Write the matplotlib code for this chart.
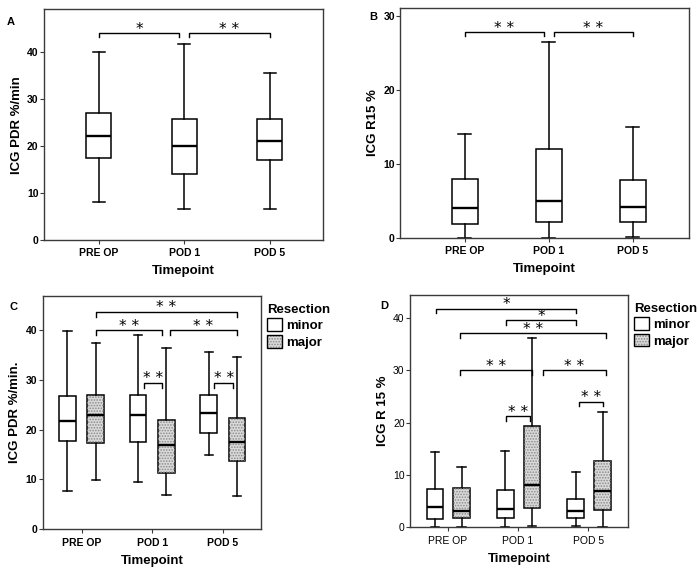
import matplotlib
matplotlib.use("Agg")
import matplotlib.pyplot as plt
from matplotlib.patches import Patch, PathPatch
from matplotlib.legend_handler import HandlerTuple

plt.rcParams['font.family'] = ['Liberation Sans', 'DejaVu Sans']
plt.rcParams['hatch.linewidth'] = 0.8

timepoints = ["PRE OP", "POD 1", "POD 5"]

# Panel A: ICG PDR %/min (whislo, q1, med, q3, whishi)
a_stats = [(8.0, 17.4, 22.0, 26.9, 40.0),
           (6.7, 14.1, 20.0, 25.7, 41.6),
           (6.5, 16.9, 21.0, 25.7, 35.5)]
# Panel B: ICG R15 %
b_stats = [(0.0, 1.9, 4.05, 8.0, 14.0),
           (0.0, 2.1, 5.0, 12.0, 26.4),
           (0.1, 2.1, 4.2, 7.8, 15.0)]
# Panel C: ICG PDR %/min by resection
c_minor = [(7.6, 17.7, 21.7, 26.8, 39.9),
           (9.4, 17.6, 23.0, 27.0, 39.1),
           (15.0, 19.4, 23.3, 27.0, 35.6)]
c_major = [(9.8, 17.3, 22.9, 27.0, 37.3),
           (6.8, 11.2, 17.0, 22.0, 36.3),
           (6.6, 13.8, 17.5, 22.3, 34.5)]
# Panel D: ICG R 15 % by resection
d_minor = [(0.0, 1.6, 3.9, 7.3, 14.3),
           (0.0, 1.7, 3.4, 7.1, 14.5),
           (0.2, 1.8, 3.1, 5.5, 10.6)]
d_major = [(0.0, 1.7, 3.1, 7.6, 11.5),
           (0.3, 3.6, 8.0, 19.4, 36.2),
           (0.1, 3.3, 6.9, 12.7, 22.0)]

# significance annotations: (start, end, bracket level, label)
a_sig = [((0, 0.0), (1, -0.06), 43.9, "*"), ((1, 0.06), (2, 0.0), 43.9, "* *")]
b_sig = [((0, 0.0), (1, -0.06), 27.8, "* *"), ((1, 0.06), (2, 0.0), 27.8, "* *")]
c_sig = [((0, 0.2), (2, 0.2), 43.7, "* *"),
         ((0, 0.2), (1, 0.14), 40.0, "* *"),
         ((1, 0.25), (2, 0.2), 40.0, "* *"),
         ((1, -0.12), (1, 0.14), 29.4, "* *"),
         ((2, -0.12), (2, 0.14), 29.4, "* *")]
d_sig = [((0, -0.17), (2, -0.17), 41.8, "*"),
         ((1, -0.17), (2, -0.17), 39.6, "*"),
         ((0, 0.17), (2, 0.25), 37.1, "* *"),
         ((0, 0.17), (1, 0.2), 30.0, "* *"),
         ((1, 0.35), (2, 0.25), 30.0, "* *"),
         ((1, -0.17), (1, 0.17), 21.2, "* *"),
         ((2, -0.13), (2, 0.2), 24.0, "* *")]

FRAME = '#3a3a3a'
MAJOR_FILL = '#dadada'
HATCH_COL = '#8a8a8a'


def to_bxp(stats):
    return [dict(whislo=s[0], q1=s[1], med=s[2], q3=s[3], whishi=s[4], fliers=[])
            for s in stats]


def draw_boxes(ax, stats, positions, width, face, hatched=False):
    r = ax.bxp(to_bxp(stats), positions=positions, widths=width, patch_artist=True,
               showfliers=False, manage_ticks=False,
               boxprops=dict(facecolor=face, edgecolor='black', linewidth=1.1),
               medianprops=dict(color='black', linewidth=1.7),
               whiskerprops=dict(color='black', linewidth=1.1),
               capprops=dict(color='black', linewidth=1.1),
               capwidths=width * 0.5)
    if hatched:
        for b in r['boxes']:
            p = PathPatch(b.get_path(), transform=b.get_transform(), facecolor='none',
                          edgecolor=HATCH_COL, hatch='......', lw=0, zorder=b.get_zorder() + 0.05)
            ax.add_patch(p)
    return r


def bracket(ax, x1, x2, y, h, label, fs=11):
    ax.plot([x1, x1, x2, x2], [y - h, y, y, y - h], color='black', lw=1.0, clip_on=False)
    ax.annotate(label, xy=((x1 + x2) / 2, y), xytext=(0, 2.8), textcoords='offset points',
                ha='center', va='center', fontsize=fs, family='DejaVu Sans',
                annotation_clip=False)


def style_axes(ax, ylim, xlim, ylabel, yticks, bold_ticks=True):
    ax.set_ylim(*ylim)
    ax.set_xlim(*xlim)
    ax.set_yticks(yticks)
    ax.set_xticks(range(len(timepoints)))
    ax.set_xticklabels(timepoints, fontsize=7.5,
                       fontweight='bold' if bold_ticks else 'normal')
    ax.tick_params(axis='y', labelsize=7.5, length=3, color=FRAME, pad=1)
    ax.tick_params(axis='x', length=3, color=FRAME, pad=3)
    for t in ax.get_yticklabels():
        t.set_fontweight('bold' if bold_ticks else 'normal')
    for sp in ax.spines.values():
        sp.set_color(FRAME)
        sp.set_linewidth(1.0)
    ax.set_xlabel("Timepoint", fontsize=9.5, fontweight='bold', labelpad=5)
    ax.set_ylabel(ylabel, fontsize=9.5, fontweight='bold', labelpad=3)


fig = plt.figure(figsize=(7.0, 5.73), dpi=100)

# Panel A
axA = fig.add_axes([0.063, 0.581, 0.398, 0.403])
draw_boxes(axA, a_stats, [0, 1, 2], 0.29, 'white')
style_axes(axA, (0, 49), (-0.64, 2.62), "ICG PDR %/min", [0, 10, 20, 30, 40])
for (g1, o1), (g2, o2), y, lab in a_sig:
    bracket(axA, g1 + o1, g2 + o2, y, 0.9, lab)
fig.text(0.010, 0.962, "A", fontsize=8, fontweight='bold', va='center')

# Panel B
axB = fig.add_axes([0.572, 0.585, 0.412, 0.4005])
draw_boxes(axB, b_stats, [0, 1, 2], 0.31, 'white')
style_axes(axB, (0, 31), (-0.77, 2.67), "ICG R15 %", [0, 10, 20, 30])
for (g1, o1), (g2, o2), y, lab in b_sig:
    bracket(axB, g1 + o1, g2 + o2, y, 0.6, lab)
fig.text(0.527, 0.970, "B", fontsize=8, fontweight='bold', va='center')

# Panel C
axC = fig.add_axes([0.061, 0.0763, 0.312, 0.4077])
draw_boxes(axC, c_minor, [-0.2, 0.8, 1.8], 0.235, 'white')
draw_boxes(axC, c_major, [0.2, 1.2, 2.2], 0.235, MAJOR_FILL, hatched=True)
style_axes(axC, (0, 46.9), (-0.55, 2.54), "ICG PDR %/min.", [0, 10, 20, 30, 40])
for (g1, o1), (g2, o2), y, lab in c_sig:
    bracket(axC, g1 + o1, g2 + o2, y, 1.0, lab)
fig.text(0.013, 0.464, "C", fontsize=8, fontweight='bold', va='center')

# Panel D
axD = fig.add_axes([0.586, 0.0798, 0.311, 0.4062])
draw_boxes(axD, d_minor, [-0.18, 0.82, 1.82], 0.235, 'white')
draw_boxes(axD, d_major, [0.2, 1.2, 2.2], 0.235, MAJOR_FILL, hatched=True)
style_axes(axD, (0, 44.5), (-0.53, 2.56), "ICG R 15 %", [0, 10, 20, 30, 40],
           bold_ticks=False)
for (g1, o1), (g2, o2), y, lab in d_sig:
    bracket(axD, g1 + o1, g2 + o2, y, 0.9, lab)
fig.text(0.543, 0.466, "D", fontsize=8, fontweight='bold', va='center')


# Legends
def add_legend(ax, anchor):
    h_minor = Patch(facecolor='white', edgecolor='black', lw=1.0)
    h_major_fill = Patch(facecolor=MAJOR_FILL, edgecolor=HATCH_COL, hatch='......', lw=0)
    h_major_edge = Patch(facecolor='none', edgecolor='black', lw=1.0)
    leg = ax.legend([h_minor, (h_major_fill, h_major_edge)], ["minor", "major"],
                    handler_map={tuple: HandlerTuple(ndivide=1, pad=0)},
                    title="Resection", loc='upper left', bbox_to_anchor=anchor,
                    frameon=False, prop=dict(weight='bold', size=9.5),
                    title_fontproperties=dict(weight='bold', size=9.5),
                    handlelength=1.1, handleheight=1.1, handletextpad=0.3,
                    labelspacing=0.2, borderaxespad=0, borderpad=0,
                    alignment='left')
    return leg


add_legend(axC, (1.028, 0.965))
add_legend(axD, (1.03, 0.965))

fig.savefig("out.png", dpi=100)
